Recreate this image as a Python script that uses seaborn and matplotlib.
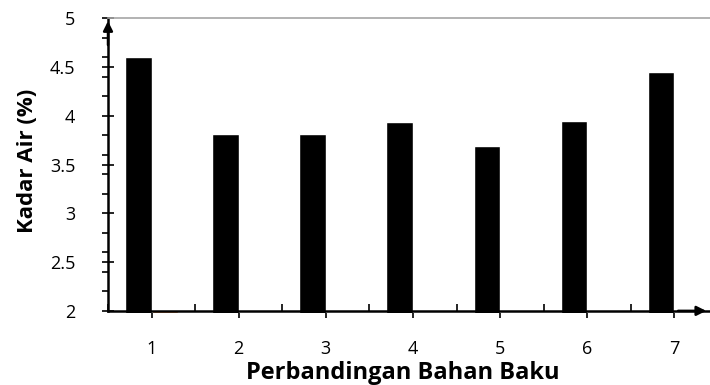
import matplotlib
matplotlib.use('Agg')
import matplotlib.pyplot as plt
import numpy as np
import pandas as pd
import seaborn as sns
from matplotlib.ticker import MultipleLocator

# Data
perbandingan = ['1', '2', '3', '4', '5', '6', '7']
kadar_air = [4.60, 3.81, 3.81, 3.94, 3.69, 3.95, 4.45]
seri_2 = [2.0, np.nan, np.nan, np.nan, np.nan, np.nan, np.nan]

df = pd.DataFrame({
    'perbandingan': perbandingan * 2,
    'nilai': kadar_air + seri_2,
    'seri': ['Kadar Air'] * 7 + ['Seri 2'] * 7,
})

sns.set_style('white')
plt.rcParams['font.family'] = ['Open Sans', 'DejaVu Sans']
plt.rcParams['text.color'] = 'black'
plt.rcParams['axes.labelcolor'] = 'black'
plt.rcParams['xtick.color'] = 'black'
plt.rcParams['ytick.color'] = 'black'

fig = plt.figure(figsize=(7.1, 3.85), dpi=100)
ax = fig.add_axes([108 / 710, (385 - 313.3) / 385, (718 - 108) / 710, (313.3 - 18.3) / 385])

sns.barplot(data=df, x='perbandingan', y='nilai', hue='seri',
            palette=['black', '#ed7d31'], width=0.61, ax=ax, legend=False,
            errorbar=None, saturation=1)

ax.set_xlim(-0.5, 6.5)
ax.set_ylim(1.975, 5)
ax.spines['bottom'].set_position(('data', 2.0))
ax.spines['bottom'].set_linewidth(1.8)
ax.spines['left'].set_linewidth(1.8)
ax.spines['left'].set_bounds(2.0, 5)
ax.spines['right'].set_visible(False)
ax.spines['top'].set_color('#a6a6a6')
ax.spines['top'].set_linewidth(1.2)
for s in ['bottom', 'left']:
    ax.spines[s].set_color('black')

ax.yaxis.set_minor_locator(MultipleLocator(0.2))
ax.set_yticks([2, 2.5, 3, 3.5, 4, 4.5, 5])
ax.set_yticklabels(['2', '2.5', '3', '3.5', '4', '4.5', '5'])
ax.set_xticks(range(7))
ax.set_xticklabels(perbandingan)
ax.xaxis.set_minor_locator(MultipleLocator(1, offset=0.5))

ax.tick_params(axis='y', which='major', direction='inout', length=9, width=1.2,
               labelsize=13, pad=19, left=True)
ax.tick_params(axis='y', which='minor', direction='out', length=4.5, width=1.2, left=True)
ax.tick_params(axis='x', which='major', direction='out', length=5, width=1.2,
               labelsize=13, pad=16, bottom=True)
ax.tick_params(axis='x', which='minor', direction='in', length=5, width=1.2, bottom=True)

ax.set_xlabel('Perbandingan Bahan Baku', fontsize=17, fontweight='bold')
ax.set_ylabel('Kadar Air (%)', fontsize=16, fontweight='bold')
ax.xaxis.set_label_coords((402.5 - 108) / 610, -(373 - 313.3) / 295, transform=ax.transAxes)
ax.yaxis.set_label_coords(-(108 - 27) / 610, (313.3 - 160.5) / 295, transform=ax.transAxes)
ax.xaxis.label.set_va('center')
ax.yaxis.label.set_va('center')

# axis arrows
ax.annotate('', xy=(0, 1.0), xycoords='axes fraction', xytext=(0, 0.9),
            arrowprops=dict(arrowstyle='-|>', color='black', lw=1.8, mutation_scale=14))
ax.annotate('', xy=(1.0 - 9 / 610, 2.0), xycoords=('axes fraction', 'data'),
            xytext=(0.93, 2.0), textcoords=('axes fraction', 'data'),
            arrowprops=dict(arrowstyle='-|>', color='black', lw=1.8, mutation_scale=14))
ax.spines['bottom'].set_bounds(-0.5, 6.4)

fig.savefig('out.png', dpi=100)
